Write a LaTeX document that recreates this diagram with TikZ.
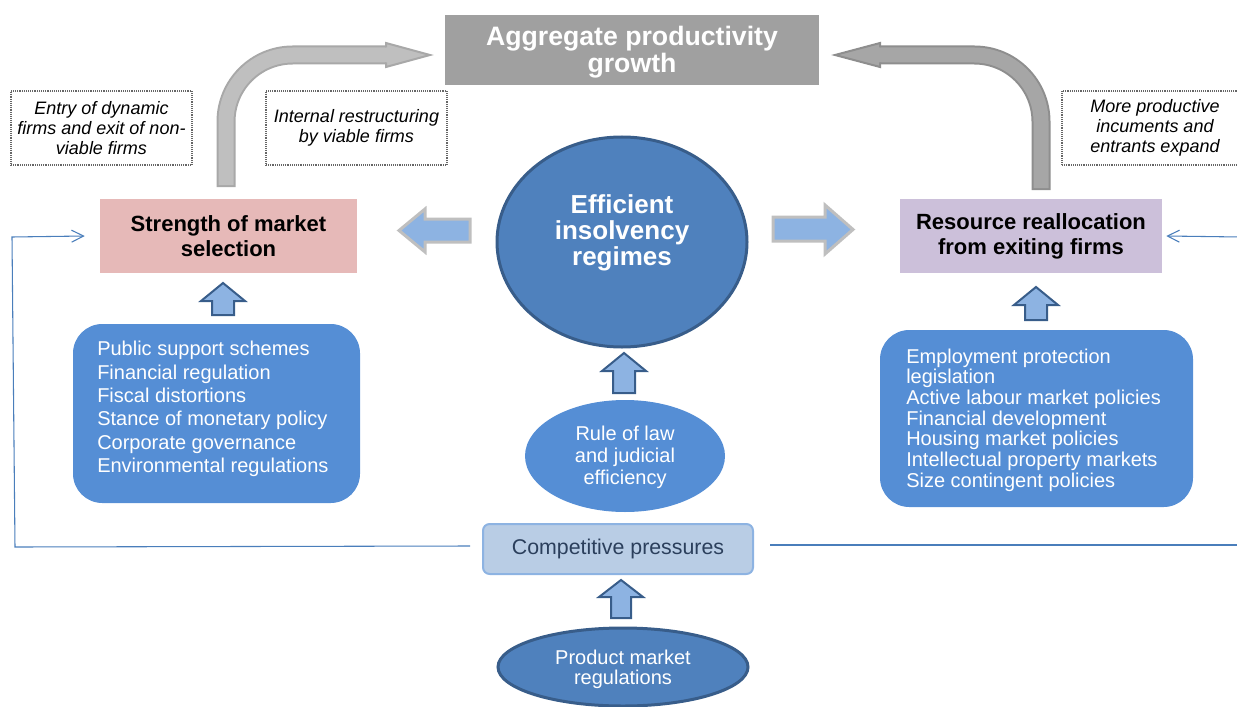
\documentclass[tikz,border=0pt]{standalone}
\usepackage{fontspec}
\setmainfont{Liberation Sans}
\usetikzlibrary{arrows.meta,shapes.geometric}
\definecolor{aggGray}{HTML}{A0A0A0}
\definecolor{arrLight}{HTML}{BFBFBF}
\definecolor{arrLightEdge}{HTML}{A8A8A8}
\definecolor{arrDark}{HTML}{A6A6A6}
\definecolor{arrDarkEdge}{HTML}{8E8E8E}
\definecolor{pinkBox}{HTML}{E6B9B8}
\definecolor{lilacBox}{HTML}{CCC0DA}
\definecolor{blueMain}{HTML}{4F81BD}
\definecolor{blueEdge}{HTML}{385D8A}
\definecolor{blueMid}{HTML}{558ED5}
\definecolor{blueLight}{HTML}{8DB3E2}
\definecolor{bluePale}{HTML}{B9CDE5}
\definecolor{lineBlue}{HTML}{4A7EBB}
\definecolor{textDark}{HTML}{2B3F5C}
\tikzset{
  dotbox/.style={draw=black!60, line width=1.4pt, dash pattern=on 0.7pt off 0.7pt, fill=white, inner sep=0pt,
    minimum width=135.75pt, minimum height=55.5pt, align=center,
    font=\fontsize{13.5}{15}\selectfont\itshape},
  keybox/.style={inner sep=0pt, minimum height=55.5pt, align=center,
    font=\fontsize{16.5}{18.75}\selectfont\bfseries},
  listbox/.style={fill=blueMid, rounded corners=22pt, inner sep=0pt},
  listtext/.style={text=white, align=left, inner sep=0pt, anchor=west,
    font=\fontsize{15}{17.5}\selectfont},
  bluearr/.style={fill=blueLight, draw=arrLight, line width=2.25pt, line join=miter},
  uparr/.style={fill=blueLight, draw=blueEdge, line width=1.5pt, line join=miter},
  thinline/.style={draw=lineBlue, line width=0.8pt},
  openhead/.style={-{Straight Barb[length=9pt,width=9pt]}}
}
\begin{document}
\begin{tikzpicture}[x=0.75pt,y=-0.75pt]
\useasboundingbox (0,0) rectangle (1237,706);
\clip (0,0) rectangle (1237,706);

% gray curved arrows
\draw[arrLightEdge, line width=14.25pt, rounded corners=50pt] (226,187) -- (226,55) -- (390,55);
\draw[arrLight, line width=11.25pt, rounded corners=50pt] (226,185) -- (226,55) -- (392,55);
\filldraw[fill=arrLight, draw=arrLightEdge, line width=1.5pt, line join=miter]
  (386,47.5) -- (386,43) -- (430,55) -- (386,67) -- (386,62.5);

\draw[arrDarkEdge, line width=14.25pt, rounded corners=50pt] (1041,190) -- (1041,55) -- (876,55);
\draw[arrDark, line width=11.25pt, rounded corners=50pt] (1041,188) -- (1041,55) -- (874,55);
\filldraw[fill=arrDark, draw=arrDarkEdge, line width=1.5pt, line join=miter]
  (880,47.5) -- (880,43) -- (835,55) -- (880,67) -- (880,62.5);

% top box
\node[fill=aggGray, minimum width=280.5pt, minimum height=52.5pt, inner sep=0pt] (agg) at (632,50) {};
\node[text=white, inner sep=0pt, align=center, font=\fontsize{20}{20.5}\selectfont\bfseries] (aggtext) at (632,52)
  {Aggregate productivity\\growth};

% dotted boxes
\node[dotbox] (entry) at (101.5,128) {Entry of dynamic\\firms and exit of non-\\viable firms};
\node[dotbox] (internal) at (356.5,128) {Internal restructuring\\by viable firms};
\node[dotbox, minimum width=139.5pt] (more) at (1155,128) {More productive\\incuments and\\entrants expand};

% key boxes
\node[keybox, fill=pinkBox, minimum width=192.75pt] (strength) at (228.5,236) {Strength of market\\selection};
\node[keybox, fill=lilacBox, minimum width=196.5pt] (resource) at (1031,236) {Resource reallocation\\from exiting firms};

% central ellipse
\node[ellipse, fill=blueMain, draw=blueEdge, line width=2.25pt, minimum width=187.5pt,
  minimum height=157.5pt, inner sep=0pt] (eff) at (622,242) {};
\node[text=white, align=center, inner sep=0pt, font=\fontsize{19.5}{19.5}\selectfont\bfseries]
  (efftext) at (622,233) {Efficient\\insolvency\\regimes};

% horizontal block arrows
\draw[bluearr] (470,219) -- (425,219) -- (425,209) -- (399,230.5) -- (425,252) -- (425,242) -- (470,242) -- cycle;
\draw[bluearr] (773,217) -- (825,217) -- (825,205) -- (853,229.5) -- (825,254) -- (825,241) -- (773,241) -- cycle;

% up block arrows
\draw[uparr] (212,315) -- (212,301) -- (201,301) -- (223,283) -- (245,301) -- (234,301) -- (234,315) -- cycle;
\draw[uparr] (1025,320) -- (1025,305) -- (1014,305) -- (1036,287) -- (1058,305) -- (1047,305) -- (1047,320) -- cycle;
\draw[uparr] (613,393) -- (613,371) -- (602,371) -- (624,353) -- (646,371) -- (635,371) -- (635,393) -- cycle;
\draw[uparr] (611,618) -- (611,597) -- (599,597) -- (621,580) -- (643,597) -- (631,597) -- (631,618) -- cycle;

% list boxes
\node[listbox, minimum width=215.25pt, minimum height=134.25pt] (leftlist) at (216.5,413.5) {};
\node[listtext] (lefttext) at (97,409) {Public support schemes\\Financial regulation\\Fiscal distortions\\Stance of monetary policy\\Corporate governance\\Environmental regulations};
\node[listbox, minimum width=234.75pt, minimum height=132.75pt] (rightlist) at (1036.5,418.5) {};
\node[listtext, font=\fontsize{15}{15.5}\selectfont] (righttext) at (906,420) {Employment protection\\legislation\\Active labour market policies\\Financial development\\Housing market policies\\Intellectual property markets\\Size contingent policies};

% rule of law
\node[ellipse, fill=blueMid, minimum width=150pt, minimum height=84pt, inner sep=0pt] (rule) at (625,456) {};
\node[text=white, align=center, inner sep=0pt, font=\fontsize{15}{16.5}\selectfont] (ruletext) at (625,457)
  {Rule of law\\and judicial\\efficiency};

% competitive pressures
\node[fill=bluePale, draw=blueLight, line width=1.5pt, rounded corners=5pt, minimum width=202.5pt,
  minimum height=37.5pt, inner sep=0pt, text=textDark, font=\fontsize{16}{18}\selectfont] (comp) at (618,549)
  {Competitive pressures};

% product market
\node[ellipse, fill=blueMain, draw=blueEdge, line width=2.25pt, minimum width=187.5pt,
  minimum height=58.5pt, inner sep=0pt] (prod) at (623,667) {};
\node[text=white, align=center, inner sep=0pt, font=\fontsize{15}{15}\selectfont] (prodtext) at (623,669)
  {Product market\\regulations};

% thin feedback lines
\coordinate (lstart) at (470,546);
\coordinate (lbottom) at (15,547);
\coordinate (ltop) at (12,237);
\coordinate (rstart) at (770,545);
\coordinate (rend) at (1240,545);
\coordinate (rin) at (1240,237);
\draw[thinline, openhead] (lstart) -- (lbottom) -- (ltop) -- ([xshift=-11.25pt]strength.west);
\draw[thinline] (rstart) -- (rend);
\draw[thinline, openhead] (rin) -- ([xshift=3pt]resource.east);
\end{tikzpicture}
\end{document}
